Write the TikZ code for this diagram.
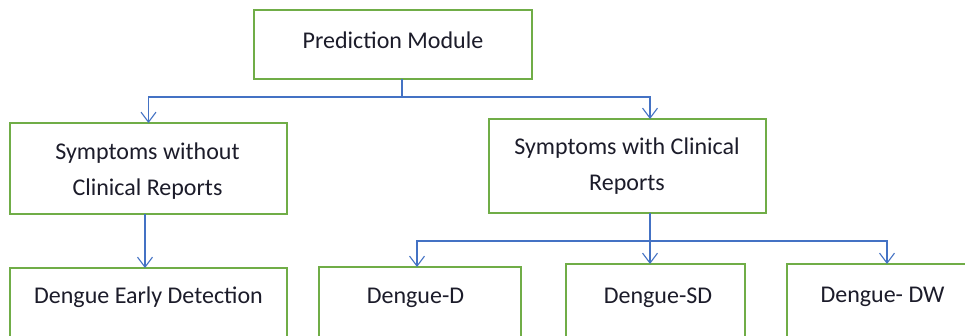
\documentclass[tikz,border=0pt]{standalone}
\usepackage{fontspec}
\setmainfont{Carlito}
\usetikzlibrary{arrows.meta}
\definecolor{boxgreen}{HTML}{70AD47}
\definecolor{linkblue}{HTML}{4472C4}
\definecolor{inktext}{HTML}{1C1C2A}
\begin{document}
\begin{tikzpicture}[x=1pt,y=-1pt,
  box/.style={draw=boxgreen, line width=2pt, inner sep=0pt, outer sep=0pt, fill=none},
  lbl/.style={inner sep=0pt, text=inktext, font=\fontsize{24}{36}\selectfont, align=center},
  link/.style={draw=linkblue, line width=1.4pt},
  arr/.style={link, -{Straight Barb[length=10pt,width=15pt,line width=1.1pt]}}]
\useasboundingbox (0,0) rectangle (965,335);
\clip (0,0) rectangle (965,335);
\fill[white] (0,0) rectangle (965,335);

% boxes
\node[box, minimum width=278pt, minimum height=69pt] (pm)  at (393,44.5) {};
\node[box, minimum width=277pt, minimum height=91pt] (swo) at (148.5,168.5) {};
\node[box, minimum width=277pt, minimum height=94pt] (swi) at (627.5,166) {};
\node[box, minimum width=277pt, minimum height=92pt] (ded) at (148.5,314) {};
\node[box, minimum width=202pt, minimum height=93pt] (dd)  at (420,313.5) {};
\node[box, minimum width=179pt, minimum height=96pt] (dsd) at (655.5,312) {};
\node[box, minimum width=203pt, minimum height=96pt] (ddw) at (888.5,312) {};

% labels (base anchor sits on the last line)
\node[lbl, anchor=base] (pmt)  at (393,48) {Prediction Module};
\node[lbl, anchor=base] (swot) at (147.5,195) {Symptoms without\\Clinical Reports};
\node[lbl, anchor=base] (swit) at (627,190) {Symptoms with Clinical\\Reports};
\node[lbl, anchor=base] (dedt) at (148.5,303) {Dengue Early Detection};
\node[lbl, anchor=base] (ddt)  at (415.5,303) {Dengue-D};
\node[lbl, anchor=base] (dsdt) at (658,303) {Dengue-SD};
\node[lbl, anchor=base] (ddwt) at (882.5,302) {Dengue- DW};

% junction points
\coordinate (j1) at (402,97);
\coordinate (j2) at (650,241);

% connectors
\draw[link] (j1 |- pm.south) -- (j1);
\draw[arr] (j1) -| (swo.north);
\draw[arr] (j1) -| ([xshift=22.5pt]swi.north);
\draw[arr] ([xshift=-3.5pt]swo.south) -- ([xshift=-3.5pt]ded.north);
\draw[link] ([xshift=22.5pt]swi.south) -- (j2);
\draw[arr] (j2) -| ([xshift=-3pt]dd.north);
\draw[arr] (j2) -- (j2 |- dsd.north);
\draw[arr] (j2) -| ([xshift=-1.5pt]ddw.north);
\end{tikzpicture}
\end{document}
